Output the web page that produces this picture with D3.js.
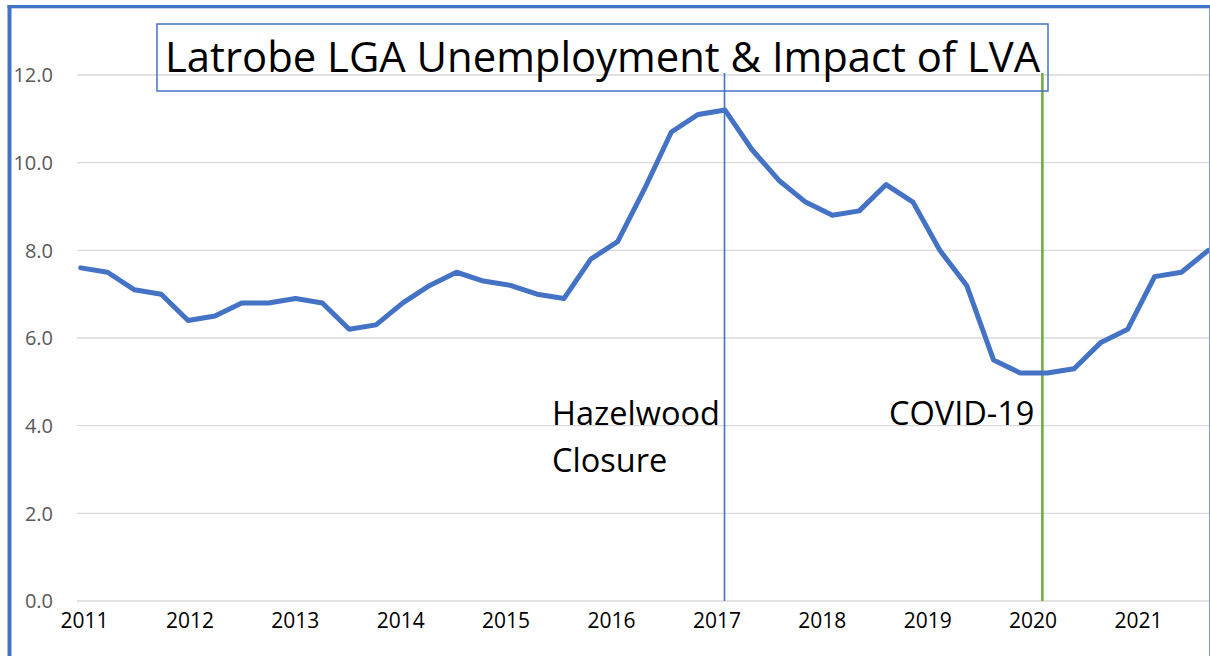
<!DOCTYPE html>
<html>
<head>
<meta charset="utf-8">
<script src="https://cdn.jsdelivr.net/npm/d3@7"></script>
<style>
  body { margin: 0; background: #fff; }
  svg { display: block; font-family: "Open Sans", sans-serif; }
</style>
</head>
<body>
<div id="main"></div>
<script>
// quarterly unemployment rate (%), 2011 Q1 .. 2021 Q3
const rates = [7.6, 7.5, 7.1, 7.0, 6.4, 6.5, 6.8, 6.8, 6.9, 6.8,
               6.2, 6.3, 6.8, 7.2, 7.5, 7.3, 7.2, 7.0, 6.9, 7.8,
               8.2, 9.4, 10.7, 11.1, 11.2, 10.3, 9.6, 9.1, 8.8, 8.9,
               9.5, 9.1, 8.0, 7.2, 5.5, 5.2, 5.2, 5.3, 5.9, 6.2,
               7.4, 7.5, 8.0];
const years = [2011, 2012, 2013, 2014, 2015, 2016, 2017, 2018, 2019, 2020, 2021];
const yTicks = [0, 2, 4, 6, 8, 10, 12];
// event markers, position given in quarter index
const eventNames = [["Hazelwood", "Closure"], ["COVID-19"]];
const eventPos = [23.98, 35.82];
const eventColors = ["#4472C4", "#70AD47"];

const ctx = {
    w: 1210,
    h: 656,
    left: 77,
    right: 1209,
    top: 75,
    bottom: 601,
};

function createViz(){
    let svg = d3.select("#main").append("svg")
        .attr("width", ctx.w)
        .attr("height", ctx.h);

    let x = d3.scalePoint().domain(d3.range(rates.length)).range([80.7, 1208.3]);
    let xPos = d3.scaleLinear().domain([0, rates.length - 1]).range([80.7, 1208.3]);
    let xYear = d3.scaleLinear().domain([2011, 2021]).range([84.5, 1138.5]);
    let y = d3.scaleLinear().domain([0, 12]).range([ctx.bottom, ctx.top]);

    // gridlines
    svg.append("g").selectAll("line")
        .data(yTicks).enter().append("line")
        .attr("x1", ctx.left).attr("x2", ctx.right)
        .attr("y1", d => y(d)).attr("y2", d => y(d))
        .attr("stroke", "#d9d9d9").attr("stroke-width", 1.3);

    // y labels
    svg.append("g").selectAll("text")
        .data(yTicks).enter().append("text")
        .attr("x", 53).attr("y", d => y(d))
        .attr("dy", "0.36em")
        .attr("text-anchor", "end")
        .attr("font-size", 20)
        .attr("fill", "#595959")
        .text(d => d3.format(".1f")(d));

    // x labels
    svg.append("g").selectAll("text")
        .data(years).enter().append("text")
        .attr("x", d => xYear(d)).attr("y", 628)
        .attr("text-anchor", "middle")
        .attr("font-size", 21)
        .attr("fill", "#000")
        .text(d => d);

    // event lines
    svg.append("g").selectAll("line")
        .data(eventPos).enter().append("line")
        .attr("x1", d => xPos(d)).attr("x2", d => xPos(d))
        .attr("y1", 73).attr("y2", ctx.bottom)
        .attr("stroke", (d, i) => eventColors[i])
        .attr("stroke-width", (d, i) => i == 0 ? 1.6 : 2.6);

    // main line
    let line = d3.line().x((d, i) => x(i)).y(d => y(d));
    svg.append("path")
        .datum(rates)
        .attr("d", line)
        .attr("fill", "none")
        .attr("stroke", "#4472C4")
        .attr("stroke-width", 5)
        .attr("stroke-linejoin", "round")
        .attr("stroke-linecap", "round");

    // annotations
    let annX = [552, 889];
    eventNames.forEach(function(lines, i){
        let t = svg.append("text")
            .attr("x", annX[i]).attr("y", 425)
            .attr("font-size", 32.5)
            .attr("fill", "#000");
        lines.forEach(function(s, j){
            t.append("tspan").attr("x", annX[i]).attr("dy", j == 0 ? 0 : 47).text(s);
        });
    });

    // title box
    svg.append("rect")
        .attr("x", 157).attr("y", 24)
        .attr("width", 891).attr("height", 67)
        .attr("fill", "none")
        .attr("stroke", "#4472C4").attr("stroke-width", 1.5);
    svg.append("text")
        .attr("x", 165).attr("y", 72)
        .attr("font-size", 41.8)
        .attr("fill", "#000")
        .text("Latrobe LGA Unemployment & Impact of LVA");

    // frame
    svg.append("rect").attr("x", 7.5).attr("y", 5).attr("width", 4).attr("height", ctx.h - 5).attr("fill", "#4472C4");
    svg.append("rect").attr("x", 7.5).attr("y", 5).attr("width", ctx.w - 7.5).attr("height", 3.3).attr("fill", "#4472C4");
    svg.append("line").attr("x1", 1209.5).attr("x2", 1209.5).attr("y1", 8).attr("y2", ctx.h)
        .attr("stroke", "#7f9bd3").attr("stroke-width", 1);
}

createViz();
</script>
</body>
</html>
